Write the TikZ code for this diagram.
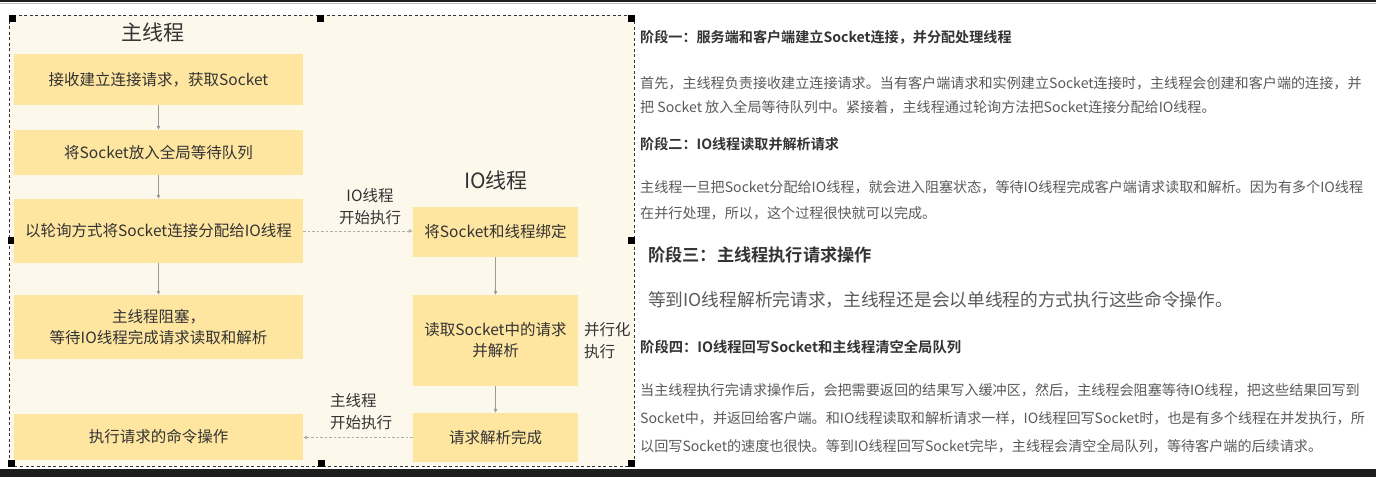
\documentclass[tikz,border=0pt]{standalone}
\usepackage{fontspec}
\setmainfont{Noto Sans CJK SC}[BoldFont={Noto Sans CJK SC Bold}]
\usetikzlibrary{arrows.meta}
\definecolor{panel}{HTML}{FDF8EC}
\definecolor{boxy}{HTML}{FEE5A0}
\definecolor{txt}{HTML}{333333}
\definecolor{bodytxt}{HTML}{5A5A5A}
\definecolor{arr}{HTML}{9A9A9A}
\definecolor{darkband}{HTML}{1E1E1E}
\tikzset{
  flowbox/.style={fill=boxy, draw=none, inner sep=0pt, text=txt, align=center,
    font=\fontsize{15.5}{21}\selectfont},
  mainbox/.style={flowbox, minimum width=289pt},
  iobox/.style={flowbox, minimum width=165pt},
  title/.style={text=txt, inner sep=0pt, font=\fontsize{21}{24}\selectfont},
  lbl/.style={text=txt, inner sep=0pt, font=\fontsize{15.5}{22}\selectfont},
  conn/.style={draw=arr, line width=0.8pt, -{Triangle[length=4pt,width=3.5pt]}},
  dconn/.style={draw=arr!80, line width=0.8pt, dash pattern=on 2.5pt off 2pt,
    -{Triangle[length=4pt,width=3.5pt]}},
  handle/.style={fill=black},
  head/.style={anchor=base west, inner sep=0pt, text=txt, font=\bfseries\fontsize{14.1}{18}\selectfont},
  para/.style={anchor=base west, inner sep=0pt, text=bodytxt, font=\fontsize{14.1}{18}\selectfont},
}
\begin{document}
\begin{tikzpicture}[x=1pt,y=-1pt]
\useasboundingbox (0,0) rectangle (1376,477);
\fill[white] (0,0) rectangle (1376,477);
% screen frame
\fill[darkband] (0,0) rectangle (1376,1.5);
\fill[black!25] (0,3) rectangle (1376,4);
\fill[darkband] (0,469) rectangle (1376,477);
% left panel
\fill[panel] (9,15) rectangle (634,466);
\draw[black!80, line width=1pt, dash pattern=on 3pt off 2.5pt] (9,15) rectangle (634,466);
\foreach \hx/\hy [count=\i] in {12/18, 320.5/18, 631/18, 11/240, 631/240, 11.5/463, 321.5/463, 631.5/463}
  \fill[handle] (\hx-3.5,\hy-3.5) rectangle (\hx+3.5,\hy+3.5);

% titles
\node[title] (tmain) at (153,32) {主线程};
\node[title] (tio) at (496,180) {IO线程};

% main thread boxes
\node[mainbox, minimum height=51pt] (b1) at (158.5,79.5) {接收建立连接请求，获取Socket};
\node[mainbox, minimum height=45pt] (b2) at (158.5,152.5) {将Socket放入全局等待队列};
\node[mainbox, minimum height=64pt] (b3) at (158.5,231) {以轮询方式将Socket连接分配给IO线程};
\node[mainbox, minimum height=64pt] (b4) at (158.5,327) {主线程阻塞，\\等待IO线程完成请求读取和解析};
\node[mainbox, minimum height=46pt] (b5) at (158.5,437) {执行请求的命令操作};

% IO thread boxes
\node[iobox, minimum height=50pt] (a1) at (495.5,232) {将Socket和线程绑定};
\node[iobox, minimum height=91pt] (a2) at (495.5,340.5) {读取Socket中的请求\\并解析};
\node[iobox, minimum height=49pt] (a3) at (495.5,437.5) {请求解析完成};

% labels
\node[lbl, align=center] (l1) at (370,207) {IO线程\\开始执行};
\node[lbl, align=left, anchor=west] (l2) at (584,341) {并行化\\执行};
\node[lbl, align=left, anchor=west] (l3) at (330,412) {主线程\\开始执行};

% connectors
\draw[conn] (b1) -- (b2);
\draw[conn] (b2) -- (b3);
\draw[conn] (b3) -- (b4);
\draw[conn] (a1) -- (a2);
\draw[conn] (a2) -- (a3);
\draw[dconn] (b3.east) -- (a1.west |- b3.east);
\draw[dconn] (a3.west) -- (b5.east |- a3.west);

% right text
\node[head] (h1) at (640,42.3) {阶段一：服务端和客户端建立Socket连接，并分配处理线程};
\node[para] (p1a) at (640,88.5) {首先，主线程负责接收建立连接请求。当有客户端请求和实例建立Socket连接时，主线程会创建和客户端的连接，并};
\node[para] (p1b) at (640,112.5) {把 Socket 放入全局等待队列中。紧接着，主线程通过轮询方法把Socket连接分配给IO线程。};
\node[head] (h2) at (640,149.5) {阶段二：IO线程读取并解析请求};
\node[para] (p2a) at (640,192.5) {主线程一旦把Socket分配给IO线程，就会进入阻塞状态，等待IO线程完成客户端请求读取和解析。因为有多个IO线程};
\node[para] (p2b) at (640,218.5) {在并行处理，所以，这个过程很快就可以完成。};
\node[head, font=\bfseries\fontsize{17.2}{20}\selectfont] (h3) at (648,261.5) {阶段三：主线程执行请求操作};
\node[para, font=\fontsize{17.7}{20}\selectfont] (p3) at (648,306.6) {等到IO线程解析完请求，主线程还是会以单线程的方式执行这些命令操作。};
\node[head, font=\bfseries\fontsize{14.3}{18}\selectfont] (h4) at (640,352.5) {阶段四：IO线程回写Socket和主线程清空全局队列};
\node[para] (p4a) at (640,395.4) {当主线程执行完请求操作后，会把需要返回的结果写入缓冲区，然后，主线程会阻塞等待IO线程，把这些结果回写到};
\node[para] (p4b) at (640,423.4) {Socket中，并返回给客户端。和IO线程读取和解析请求一样，IO线程回写Socket时，也是有多个线程在并发执行，所};
\node[para] (p4c) at (640,451.4) {以回写Socket的速度也很快。等到IO线程回写Socket完毕，主线程会清空全局队列，等待客户端的后续请求。};
\end{tikzpicture}
\end{document}
